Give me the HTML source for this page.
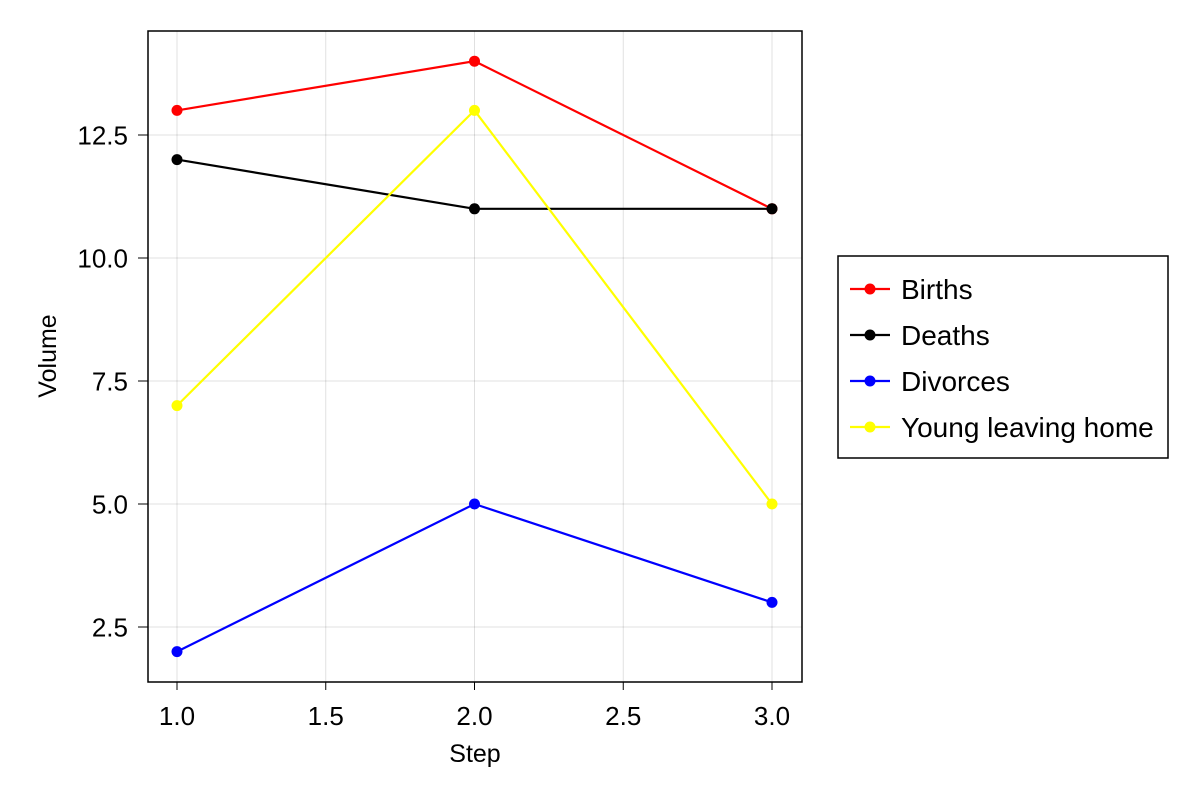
<!DOCTYPE html>
<html><head><meta charset="utf-8"><style>
html,body{margin:0;padding:0;background:#fff;}
svg{display:block;font-family:"Liberation Sans",sans-serif;}
</style></head><body>
<svg id="chart" width="1200" height="800">
<rect width="1200" height="800" fill="#fff"/>
<g id="grid"></g>
<g id="series"></g>
<rect x="148" y="31" width="654" height="651" fill="none" stroke="#000" stroke-width="1.5"/>
<g id="ticks"></g>
<text x="475" y="762" font-size="25" text-anchor="middle">Step</text>
<text transform="translate(56,356) rotate(-90)" font-size="25" text-anchor="middle">Volume</text>
<g id="legend"></g>
</svg>
<script>
const steps=[1,2,3];
const seriesNames=["Births","Deaths","Divorces","Young leaving home"];
const seriesColors=["#ff0000","#000000","#0000ff","#ffff00"];
const births=[13,14,11];
const deaths=[12,11,11];
const divorces=[2,5,3];
const youngLeaving=[7,13,5];
const xTicks=[1.0,1.5,2.0,2.5,3.0];
const yTicks=[2.5,5.0,7.5,10.0,12.5];
const allSeries=[births,deaths,divorces,youngLeaving];
const NS="http://www.w3.org/2000/svg";
const xs=v=>177+(v-1)*297.5;
const ys=v=>627-(v-2.5)*49.2;
function mk(t,a,p){const e=document.createElementNS(NS,t);for(const k in a)e.setAttribute(k,a[k]);p.appendChild(e);return e;}
const grid=document.getElementById('grid'),ticks=document.getElementById('ticks');
xTicks.forEach(t=>{
 const l=mk('line',{x1:xs(t),x2:xs(t),y1:31,y2:682,stroke:'#000','stroke-opacity':0.12,'stroke-width':1},grid);
 
 
 const tk=mk('line',{x1:xs(t),x2:xs(t),y1:682,y2:690,stroke:'#000','stroke-width':1},ticks);
 
 
 const tx=mk('text',{x:xs(t),y:725,'font-size':26,'text-anchor':'middle'},ticks);
 tx.textContent=t.toFixed(1);
 
 
});
yTicks.forEach(t=>{
 const l=mk('line',{x1:148,x2:802,y1:ys(t),y2:ys(t),stroke:'#000','stroke-opacity':0.12,'stroke-width':1},grid);
 
 
 const tk=mk('line',{x1:138,x2:148,y1:ys(t),y2:ys(t),stroke:'#000','stroke-width':1},ticks);
 
 
 const tx=mk('text',{x:128,y:ys(t)+9.5,'font-size':26,'text-anchor':'end'},ticks);
 tx.textContent=t.toFixed(1);
 
 
});
const sg=document.getElementById('series');
allSeries.forEach((vals,i)=>{
 const pts=vals.map((v,j)=>xs(steps[j])+','+ys(v)).join(' ');
 const pl=mk('polyline',{points:pts,fill:'none',stroke:seriesColors[i],'stroke-width':2.2},sg);
 
 
 vals.forEach((v,j)=>{
  const c=mk('circle',{cx:xs(steps[j]),cy:ys(v),r:5.5,fill:seriesColors[i]},sg);
  
  
 });
});
const lg=document.getElementById('legend');
const box=mk('rect',{x:838,y:256,width:330,height:202,fill:'#fff',stroke:'#000','stroke-width':1.5},lg);


seriesNames.forEach((n,i)=>{
 const y=289+i*46;
 const l=mk('line',{x1:850,x2:890,y1:y,y2:y,stroke:seriesColors[i],'stroke-width':2.2},lg);
 
 
 const c=mk('circle',{cx:870,cy:y,r:5.5,fill:seriesColors[i]},lg);
 
 
 const t=mk('text',{x:901,y:y+10,'font-size':28},lg);
 t.textContent=n;
 
 
});
</script>
</body></html>
